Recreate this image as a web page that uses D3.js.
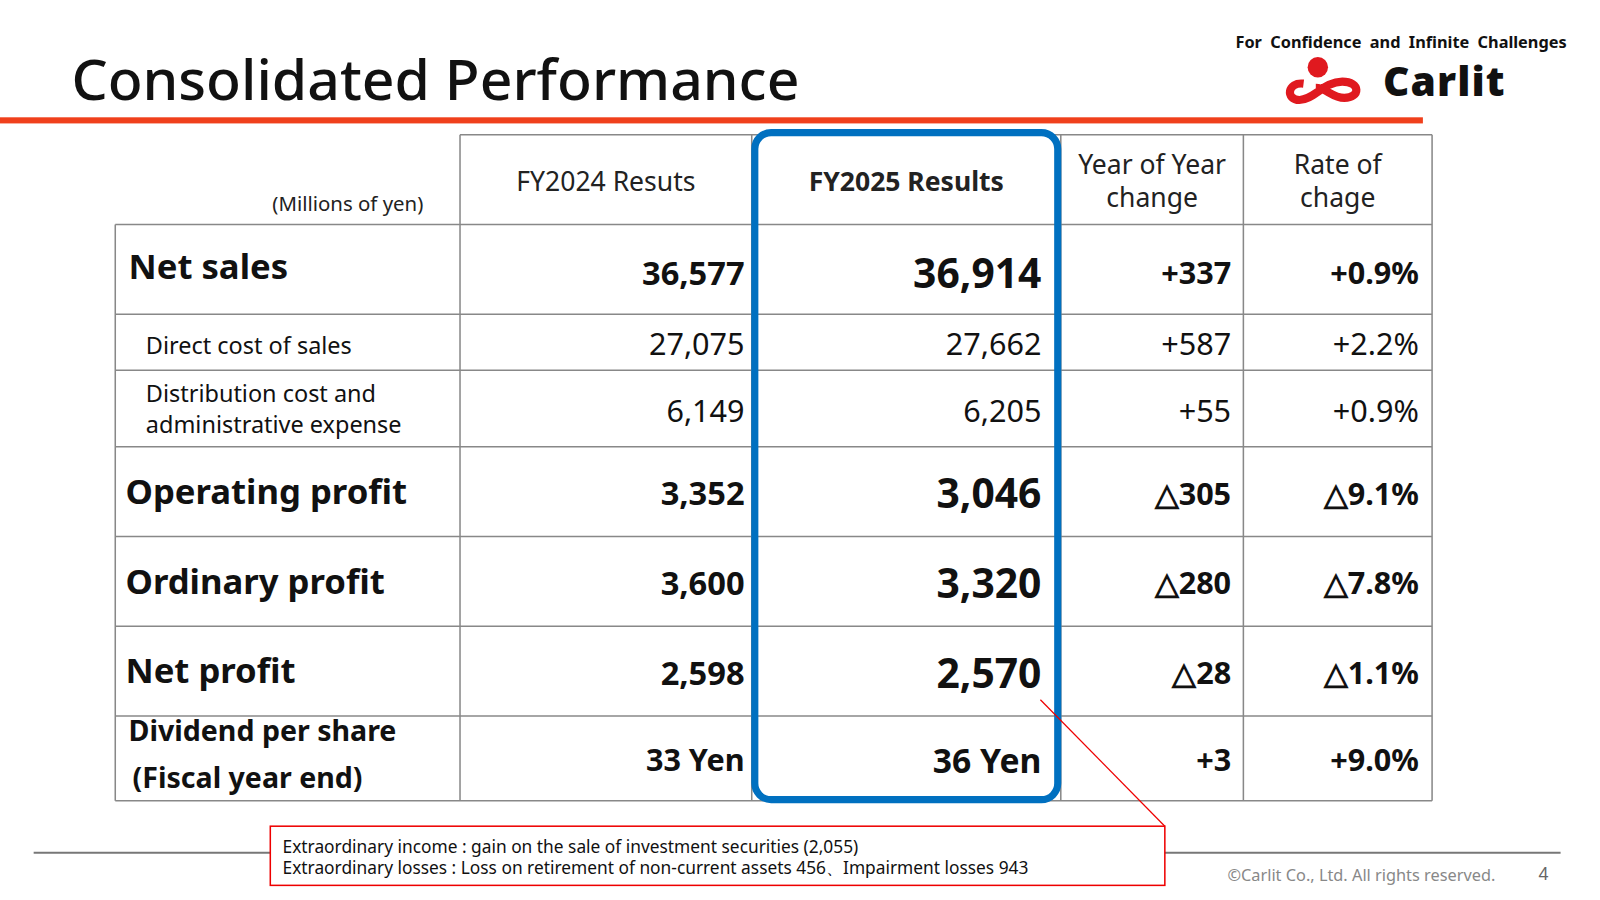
<!DOCTYPE html>
<html>
<head>
<meta charset="utf-8">
<script src="https://cdn.jsdelivr.net/npm/d3@7"></script>
<style>
  body { margin: 0; background: #fff; }
  text { font-family: "Noto Sans", "Open Sans", sans-serif; }
</style>
</head>
<body>
<script>
// table data
const rowLabels = [["Net sales"], ["Direct cost of sales"], ["Distribution cost and", "administrative expense"],
  ["Operating profit"], ["Ordinary profit"], ["Net profit"], ["Dividend per share", "(Fiscal year end)"]];
const fy2024 = ["36,577", "27,075", "6,149", "3,352", "3,600", "2,598", "33 Yen"];
const fy2025 = ["36,914", "27,662", "6,205", "3,046", "3,320", "2,570", "36 Yen"];
const yoyChange = ["+337", "+587", "+55", "△305", "△280", "△28", "+3"];
const rateChange = ["+0.9%", "+2.2%", "+0.9%", "△9.1%", "△7.8%", "△1.1%", "+9.0%"];
const boldRow = [true, false, false, true, true, true, true];
const headers = [["FY2024 Resuts"], ["FY2025 Results"], ["Year of Year", "change"], ["Rate of", "chage"]];
const noteLines = ["Extraordinary income : gain on the sale of investment securities  (2,055)",
  "Extraordinary losses   : Loss on retirement of non-current assets  456、Impairment losses 943"];

const root = d3.select("body").append("svg").attr("width", 1600).attr("height", 900);
const svg = root.append("g").attr("transform", "scale(1.02)");

// title & header bar
svg.append("text").attr("x", 70).attr("y", 98).attr("font-size", 56).attr("font-weight", 500)
  .attr("fill", "#111").text("Consolidated Performance");
svg.append("rect").attr("x", 0).attr("y", 115).attr("width", 1395).attr("height", 6).attr("fill", "#f0401c");
svg.append("text").attr("x", 1536).attr("y", 47).attr("text-anchor", "end").attr("font-size", 16)
  .attr("font-weight", "bold").attr("word-spacing", 4).attr("fill", "#111")
  .text("For Confidence and Infinite Challenges");

// logo
const logo = svg.append("g").attr("transform", "translate(1258,56)");
logo.append("circle").attr("cx", 34).attr("cy", 10).attr("r", 10).attr("fill", "#e0191f");
logo.append("path").attr("fill", "none").attr("stroke", "#e0191f").attr("stroke-width", 8)
  .attr("d", "M20,26 C4,24 2,42 16,42 C30,42 40,24 58,24 C76,24 76,40 60,40 C48,40 42,30 32,30");
logo.append("text").attr("x", 98).attr("y", 38).attr("font-size", 40).attr("font-weight", 900)
  .attr("letter-spacing", 1).attr("fill", "#111").text("Carlit");

// table geometry
const colX = [113, 451, 737, 1040, 1219, 1404];
const rowH = [88, 55, 75, 88, 88, 88, 83];
const headTop = 132, headBottom = 220;
const rowY = [headBottom];
rowH.forEach((h, i) => rowY.push(rowY[i] + h));
const tableBottom = rowY[rowY.length - 1];
const lineColor = "#888";

const grid = svg.append("g").attr("stroke", lineColor).attr("stroke-width", 1.5);
grid.append("line").attr("x1", colX[1]).attr("x2", colX[5]).attr("y1", headTop).attr("y2", headTop);
rowY.forEach(y => grid.append("line").attr("x1", colX[0]).attr("x2", colX[5]).attr("y1", y).attr("y2", y));
colX.forEach((x, i) => grid.append("line").attr("x1", x).attr("x2", x)
  .attr("y1", i === 0 ? headBottom : headTop).attr("y2", tableBottom));

// header texts
svg.append("text").attr("x", 415).attr("y", 207).attr("text-anchor", "end").attr("font-size", 20)
  .attr("fill", "#222").text("(Millions of yen)");
headers.forEach((lines, i) => {
  const cx = (colX[i + 1] + colX[i + 2]) / 2;
  const t = svg.append("text").attr("text-anchor", "middle").attr("fill", "#222")
    .attr("font-size", 26).attr("font-weight", i === 1 ? "bold" : "normal");
  lines.forEach((l, j) => t.append("tspan").attr("x", cx)
    .attr("y", lines.length === 1 ? 187 : 171 + j * 32).text(l));
});

// rows
const cols = [fy2024, fy2025, yoyChange, rateChange];
const rightX = [730, 1021, 1207, 1391];
rowLabels.forEach((lines, r) => {
  const mid = (rowY[r] + rowY[r + 1]) / 2;
  const b = boldRow[r];
  const t = svg.append("text").attr("fill", "#111").attr("font-weight", b ? "bold" : "normal")
    .attr("font-size", b ? (r === 6 ? 28 : 34) : 23);
  const lx = r === 0 || r === 6 ? 126 : (b ? 123 : 143);
  if (lines.length === 1) {
    t.append("tspan").attr("x", lx).attr("y", mid + (r === 0 ? 10 : 12)).text(lines[0]);
  } else {
    const gap = r === 6 ? 46 : 30;
    lines.forEach((l, j) => t.append("tspan").attr("x", j === 1 && r === 6 ? 130 : lx)
      .attr("y", mid - gap / 2 + 9 + j * gap - (r === 6 ? 3 : 0)).text(l));
  }
  cols.forEach((col, c) => {
    let fs = b ? 32 : 30;
    if (c === 1 && b) fs = 40;
    if (r === 6) fs = c === 1 ? 33 : 30;
    if (b && c >= 2) fs = 30;
    svg.append("text").attr("x", rightX[c]).attr("y", mid + fs * 0.36 + (r === 0 ? 4 : 2))
      .attr("text-anchor", "end").attr("font-size", fs).attr("font-weight", b ? "bold" : "normal")
      .attr("fill", "#111").text(col[r]);
  });
});

// highlight box around FY2025
svg.append("rect").attr("x", 740).attr("y", 130).attr("width", 297).attr("height", 654).attr("rx", 16)
  .attr("fill", "none").attr("stroke", "#0070c0").attr("stroke-width", 7);

// footer
svg.append("line").attr("x1", 33).attr("x2", 1530).attr("y1", 836).attr("y2", 836)
  .attr("stroke", "#777").attr("stroke-width", 2);
svg.append("line").attr("x1", 1020).attr("y1", 686).attr("x2", 1142).attr("y2", 810)
  .attr("stroke", "#e00").attr("stroke-width", 1.2);
svg.append("rect").attr("x", 265).attr("y", 810).attr("width", 877).attr("height", 58)
  .attr("fill", "#fff").attr("stroke", "#e00").attr("stroke-width", 1.5);
noteLines.forEach((l, i) => svg.append("text").attr("x", 277).attr("y", 836 + i * 21)
  .attr("font-size", 17).attr("fill", "#111").text(l));
svg.append("text").attr("x", 1466).attr("y", 864).attr("text-anchor", "end").attr("font-size", 16)
  .attr("fill", "#888").text("©Carlit Co., Ltd. All rights reserved.");
svg.append("text").attr("x", 1518).attr("y", 863).attr("text-anchor", "end").attr("font-size", 17)
  .attr("fill", "#666").text("4");
</script>
</body>
</html>
